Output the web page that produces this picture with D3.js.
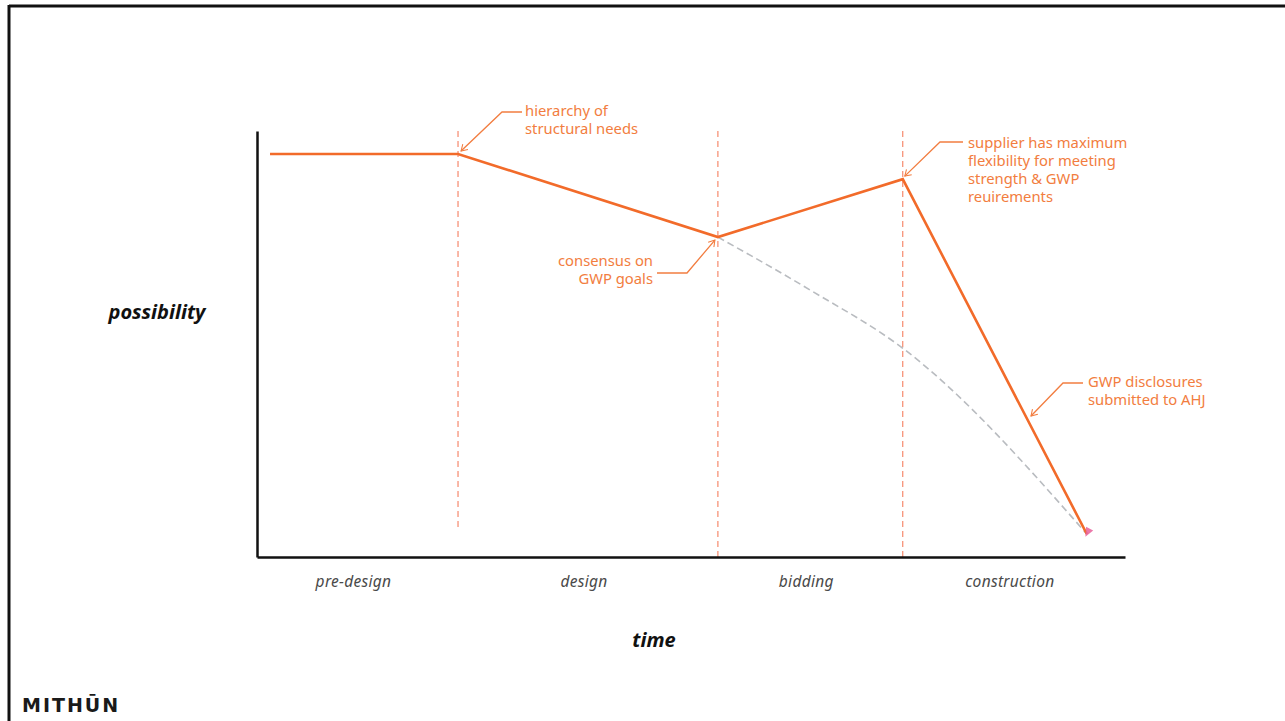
<!DOCTYPE html>
<html>
<head>
<meta charset="utf-8">
<script src="https://cdn.jsdelivr.net/npm/d3@7"></script>
<style>
  html, body { margin: 0; padding: 0; background: #fff; }
  svg { display: block; }
  .phase { font-family: "Noto Sans", sans-serif; font-style: italic; font-size: 15.5px; fill: #4a4a4a; letter-spacing: 0.3px; }
  .axis-title { font-family: "Noto Sans", sans-serif; font-style: italic; font-weight: 700; font-size: 20px; fill: #111; }
  .note { font-family: "Noto Sans", sans-serif; font-size: 14.8px; fill: #f27d40; }
  .logo { font-family: "DejaVu Sans", sans-serif; font-weight: 700; font-size: 19px; fill: #1a1a1a; letter-spacing: 2px; }
</style>
</head>
<body>
<svg id="chart" width="1285" height="721"></svg>
<script>
// Project phases along the time axis (fraction of total time)
const phases = ["pre-design", "design", "bidding", "construction"];
const phaseStarts = [0, 0.2316, 0.531, 0.744];
const phaseEnds = [0.2316, 0.531, 0.744, 1];

// Main path: how much possibility remains over time
const pathTimes = [0.015, 0.2316, 0.531, 0.744, 0.956];
const pathValues = [0.946, 0.946, 0.751, 0.887, 0.054];

// Alternative path without a consensus on GWP goals
const altTimes = [0.531, 0.637, 0.744, 0.956];
const altValues = [0.751, 0.627, 0.49, 0.054];

// Milestone markers (dashed verticals)
const milestoneTimes = [0.2316, 0.531, 0.744];
const milestoneTops = [1.0, 1.0, 1.0];
const milestoneBottoms = [0.068, 0, 0];

// Annotation notes
const noteLines = [
  ["hierarchy of", "structural needs"],
  ["consensus on", "GWP goals"],
  ["supplier has maximum", "flexibility for meeting", "strength & GWP", "reuirements"],
  ["GWP disclosures", "submitted to AHJ"]
];

const svg = d3.select("#chart");
const W = 1285, H = 721;
const orange = "#f26b2a";
const noteColor = "#f27d40";

// Slide frame
svg.append("line").attr("x1", 9).attr("x2", W).attr("y1", 6).attr("y2", 6)
  .attr("stroke", "#111").attr("stroke-width", 3);
svg.append("line").attr("x1", 9).attr("x2", 9).attr("y1", 5).attr("y2", H)
  .attr("stroke", "#111").attr("stroke-width", 3);

const x = d3.scaleLinear().domain([0, 1]).range([257, 1125]);
const y = d3.scaleLinear().domain([0, 1]).range([557, 131]);

// Milestone dashed lines
svg.append("g").selectAll("line").data(milestoneTimes).join("line")
  .attr("x1", d => x(d)).attr("x2", d => x(d))
  .attr("y1", (d, i) => y(milestoneTops[i]))
  .attr("y2", (d, i) => y(milestoneBottoms[i]))
  .attr("stroke", "#f4714f").attr("stroke-width", 1)
  .attr("stroke-dasharray", "6,4");

// Axes (no ticks)
const xAxis = d3.axisBottom(x).tickValues([]).tickSizeOuter(0);
const yAxis = d3.axisLeft(y).tickValues([]).tickSizeOuter(0);
svg.append("g").attr("transform", `translate(0,${y(0)})`).call(xAxis)
  .select(".domain").attr("stroke", "#111").attr("stroke-width", 2.5);
svg.append("g").attr("transform", `translate(${x(0)},0)`).call(yAxis)
  .select(".domain").attr("stroke", "#111").attr("stroke-width", 2.5);

// Phase labels, centred in each band
svg.append("g").selectAll("text").data(phases).join("text")
  .attr("class", "phase")
  .attr("x", (d, i) => x((phaseStarts[i] + phaseEnds[i]) / 2) - 4)
  .attr("y", 587)
  .attr("text-anchor", "middle")
  .text(d => d);

// Axis titles
svg.append("text").attr("class", "axis-title").attr("x", 157).attr("y", 319)
  .attr("text-anchor", "middle").text("possibility");
svg.append("text").attr("class", "axis-title").attr("x", 654).attr("y", 647)
  .attr("text-anchor", "middle").text("time");

// Alternative path (grey dashed, gently curved)
const altData = altTimes.map((t, i) => [t, altValues[i]]);
svg.append("path").datum(altData)
  .attr("fill", "none").attr("stroke", "#b9bcc0").attr("stroke-width", 1.6)
  .attr("stroke-dasharray", "7,4")
  .attr("d", d3.line().x(d => x(d[0])).y(d => y(d[1])).curve(d3.curveMonotoneX));

// Main path
const pathData = pathTimes.map((t, i) => [t, pathValues[i]]);
svg.append("path").datum(pathData)
  .attr("fill", "none").attr("stroke", orange).attr("stroke-width", 2.6)
  .attr("stroke-linejoin", "miter")
  .attr("d", d3.line().x(d => x(d[0])).y(d => y(d[1])));

// End marker
const last = pathData[pathData.length - 1];
svg.append("path")
  .attr("transform", `translate(${x(last[0])},${y(last[1])}) rotate(28)`)
  .attr("d", "M-4,-6 L4,-6 L0,3 Z")
  .attr("fill", "#e8609a").attr("opacity", 0.85);

// Open arrowhead for annotation leaders
svg.append("defs").append("marker")
  .attr("id", "chev").attr("viewBox", "-10 -6 12 12")
  .attr("refX", 0).attr("refY", 0)
  .attr("markerWidth", 9).attr("markerHeight", 9)
  .attr("markerUnits", "userSpaceOnUse")
  .attr("orient", "auto")
  .append("path").attr("d", "M-8,-5 L0,0 L-8,5")
  .attr("fill", "none").attr("stroke", noteColor).attr("stroke-width", 1.4);

// Annotation placement: text anchor, leader elbow, leader tip
const noteLayouts = [
  { tx: 525, ty: 116, anchor: "start", elbow: [[522, 112], [502, 112]], tip: [x(pathTimes[1]) + 3, y(pathValues[1]) - 3] },
  { tx: 653, ty: 266, anchor: "end", elbow: [[657, 273], [687, 273]], tip: [x(pathTimes[2]) - 3, y(pathValues[2]) + 3] },
  { tx: 968, ty: 148, anchor: "start", elbow: [[963, 142], [940, 142]], tip: [x(pathTimes[3]) + 2, y(pathValues[3]) - 3] },
  { tx: 1088, ty: 387, anchor: "start", elbow: [[1083, 383], [1063, 383]], tip: [1031, 416] }
];

noteLines.forEach((lines, i) => {
  const L = noteLayouts[i];
  const t = svg.append("text").attr("class", "note")
    .attr("x", L.tx).attr("y", L.ty).attr("text-anchor", L.anchor);
  lines.forEach((ln, j) => {
    t.append("tspan").attr("x", L.tx).attr("dy", j === 0 ? 0 : 18).text(ln);
  });
  const pts = [...L.elbow, L.tip];
  svg.append("path")
    .attr("d", d3.line()(pts))
    .attr("fill", "none").attr("stroke", noteColor).attr("stroke-width", 1.3)
    .attr("marker-end", "url(#chev)");
});

// Logo
svg.append("text").attr("class", "logo").attr("x", 22).attr("y", 712).text("MITH\u016AN");
</script>
</body>
</html>
